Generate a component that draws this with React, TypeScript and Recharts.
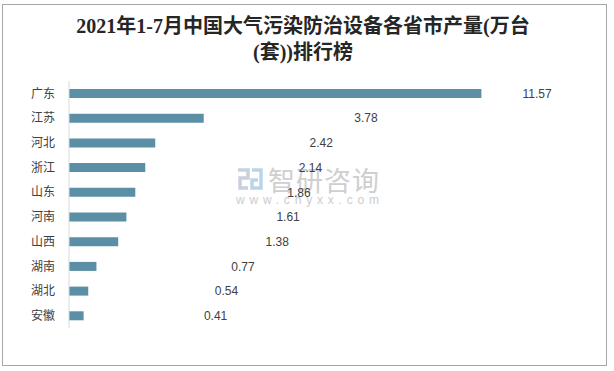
import React from 'react';
import { BarChart, Bar, XAxis, YAxis, LabelList } from 'recharts';

// 省市 & 产量(万台(套))
const provinces = ['广东', '江苏', '河北', '浙江', '山东', '河南', '山西', '湖南', '湖北', '安徽'];
const output = [11.57, 3.78, 2.42, 2.14, 1.86, 1.61, 1.38, 0.77, 0.54, 0.41];

const data = provinces.map((name, i) => ({ name, value: output[i] }));

const labelFont = '"Liberation Sans", Arial, sans-serif';
const cjkFont = '"Noto Sans CJK SC", sans-serif';

const Watermark = () => (
  <div style={{ position: 'absolute', left: 236, top: 164, width: 150, height: 45 }}>
    <svg width={27} height={24} style={{ position: 'absolute', left: 0, top: 3 }}>
      <path d="M2 3 H12 V11 H4 V21 H12" fill="none" stroke="#c9d0de" strokeWidth={3.5} />
      <path d="M16 3 H25 V21 H16 V13 H22" fill="none" stroke="#b9d5ea" strokeWidth={3.5} />
    </svg>
    <div
      style={{
        position: 'absolute', left: 32, top: -4, fontFamily: cjkFont, fontSize: 27,
        color: '#cfcfcf', letterSpacing: 1, whiteSpace: 'nowrap',
      }}
    >
      智研咨询
    </div>
    <div
      style={{
        position: 'absolute', left: 0, top: 29, fontFamily: labelFont, fontSize: 12,
        color: '#cccccc', letterSpacing: 4.8, whiteSpace: 'nowrap',
      }}
    >
      www.chyxx.com
    </div>
  </div>
);

const App = () => {
  return (
    <div style={{ position: 'absolute', left: 0, top: 0, width: 614, height: 371, background: '#fff' }}>
      <div
        style={{
          position: 'absolute', left: 2, top: 4, width: 605, height: 362,
          border: '1px solid #a6a6a6', boxSizing: 'border-box',
        }}
      />
      <div
        style={{
          position: 'absolute', left: 0, top: 13, width: 606, textAlign: 'center',
          fontFamily: '"Liberation Serif", "Noto Sans CJK SC", serif', fontWeight: 'bold',
          fontSize: 20, lineHeight: '26px', color: '#262626',
        }}
      >
        2021年1-7月中国大气污染防治设备各省市产量(万台
        <br />
        (套))排行榜
      </div>
      <Watermark />
      <div style={{ position: 'absolute', left: 0, top: 0 }}>
        <BarChart
          width={614}
          height={371}
          data={data}
          layout="vertical"
          margin={{ top: 81, right: 46, bottom: 43, left: 0 }}
        >
          <XAxis type="number" dataKey="value" domain={[0, 14]} allowDataOverflow hide />
          {/* label positions follow a sqrt scale in the original */}
          <XAxis
            xAxisId="lbl"
            type="number"
            scale="sqrt"
            domain={[0, 13]}
            allowDataOverflow
            padding={{ left: 56, right: 27 }}
            hide
          />
          <YAxis
            type="category"
            dataKey="name"
            width={69}
            tickLine={false}
            tickSize={6}
            tickMargin={8}
            axisLine={{ stroke: '#d9d9d9' }}
            tick={{ fill: '#404040', fontSize: 12, fontFamily: cjkFont }}
            interval={0}
          />
          <YAxis yAxisId="lbl" type="category" dataKey="name" hide />
          <Bar
            dataKey="value"
            fill="#5b8fa6"
            barSize={9}
            isAnimationActive={false}
          />
          <Bar
            dataKey="value"
            xAxisId="lbl"
            yAxisId="lbl"
            fill="transparent"
            barSize={9}
            isAnimationActive={false}
          >
            <LabelList
              dataKey="value"
              position="right"
              offset={5}
              fill="#404040"
              fontSize={12}
              fontFamily={labelFont}
            />
          </Bar>
        </BarChart>
      </div>
    </div>
  );
};

export default App;
